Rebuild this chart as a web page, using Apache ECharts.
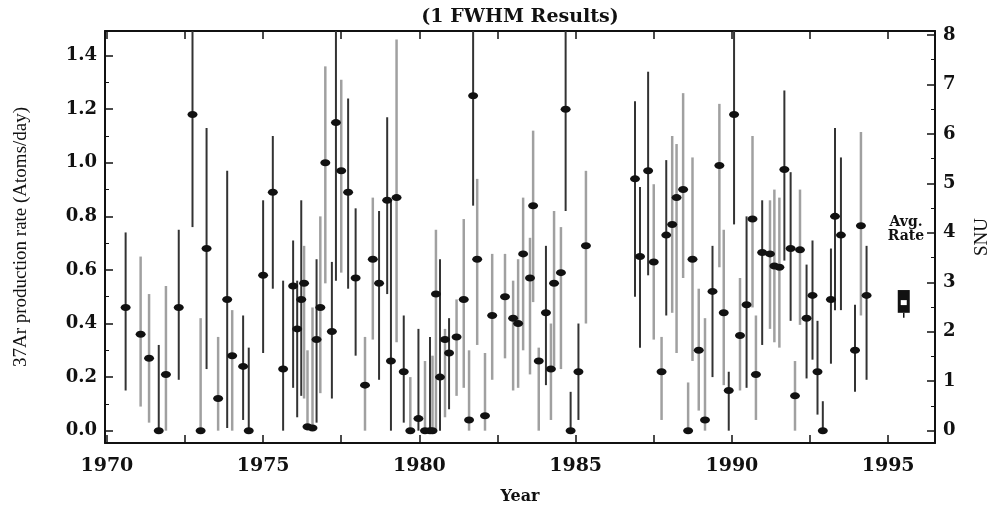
<!DOCTYPE html>
<html>
<head>
<meta charset="utf-8">
<title>37Ar production rate (1 FWHM Results)</title>
<script src="https://cdn.jsdelivr.net/npm/echarts@6/dist/echarts.min.js"></script>
<style>
  html, body { margin: 0; padding: 0; background: #fff; }
  #chart { width: 991px; height: 514px; }
</style>
</head>
<body>
<div id="chart"></div>
<script>
// run mid-dates (year)
var years = [1970.60, 1971.08, 1971.35, 1971.66, 1971.89, 1972.30, 1972.74, 1973.00, 1973.19, 1973.56,
  1973.85, 1974.01, 1974.36, 1974.54, 1975.00, 1975.31, 1975.64, 1975.96, 1976.09, 1976.22,
  1976.31, 1976.42, 1976.58, 1976.71, 1976.83, 1976.99, 1977.20, 1977.33, 1977.50, 1977.72,
  1977.96, 1978.26, 1978.51, 1978.71, 1978.97, 1979.09, 1979.27, 1979.50, 1979.71, 1979.97,
  1980.18, 1980.34, 1980.42, 1980.53, 1980.66, 1980.82, 1980.95, 1981.19, 1981.42, 1981.59,
  1981.72, 1981.85, 1982.10, 1982.33, 1982.74, 1983.00, 1983.16, 1983.32, 1983.54, 1983.64,
  1983.82, 1984.05, 1984.21, 1984.31, 1984.53, 1984.68, 1984.84, 1985.09, 1985.33, 1986.90,
  1987.06, 1987.32, 1987.50, 1987.75, 1987.90, 1988.09, 1988.23, 1988.44, 1988.60, 1988.74,
  1988.94, 1989.14, 1989.38, 1989.60, 1989.74, 1989.90, 1990.07, 1990.26, 1990.47, 1990.66,
  1990.77, 1990.97, 1991.22, 1991.36, 1991.52, 1991.68, 1991.88, 1992.02, 1992.18, 1992.39,
  1992.58, 1992.74, 1992.91, 1993.17, 1993.30, 1993.49, 1993.94, 1994.13, 1994.31];
// 37Ar production rate (atoms/day)
var rates = [0.46, 0.36, 0.27, 0.00, 0.21, 0.46, 1.18, 0.00, 0.68, 0.12,
  0.49, 0.28, 0.24, 0.00, 0.58, 0.89, 0.23, 0.54, 0.38, 0.49,
  0.55, 0.015, 0.01, 0.34, 0.46, 1.00, 0.37, 1.15, 0.97, 0.89,
  0.57, 0.17, 0.64, 0.55, 0.86, 0.26, 0.87, 0.22, 0.00, 0.045,
  0.00, 0.00, 0.00, 0.51, 0.20, 0.34, 0.29, 0.35, 0.49, 0.04,
  1.25, 0.64, 0.056, 0.43, 0.50, 0.42, 0.40, 0.66, 0.57, 0.84,
  0.26, 0.44, 0.23, 0.55, 0.59, 1.20, 0.00, 0.22, 0.69, 0.94,
  0.65, 0.97, 0.63, 0.22, 0.73, 0.77, 0.87, 0.90, 0.00, 0.64,
  0.30, 0.04, 0.52, 0.99, 0.44, 0.15, 1.18, 0.355, 0.47, 0.79,
  0.21, 0.665, 0.66, 0.615, 0.61, 0.975, 0.68, 0.13, 0.675, 0.42,
  0.505, 0.22, 0.00, 0.49, 0.80, 0.73, 0.30, 0.765, 0.505];
// 1 FWHM error bar ends
var lows = [0.15, 0.09, 0.03, 0.00, 0.00, 0.19, 0.76, 0.00, 0.23, 0.00,
  0.01, 0.00, 0.04, 0.00, 0.29, 0.53, 0.00, 0.16, 0.05, 0.13,
  0.12, 0.00, 0.00, 0.03, 0.14, 0.55, 0.12, 0.56, 0.59, 0.53,
  0.28, 0.00, 0.34, 0.19, 0.51, 0.00, 0.33, 0.03, 0.00, 0.00,
  0.00, 0.00, 0.00, 0.00, 0.00, 0.05, 0.08, 0.13, 0.16, 0.00,
  0.84, 0.32, 0.00, 0.19, 0.27, 0.15, 0.16, 0.30, 0.21, 0.48,
  0.00, 0.17, 0.04, 0.24, 0.23, 0.82, 0.00, 0.04, 0.40, 0.50,
  0.31, 0.58, 0.34, 0.04, 0.43, 0.44, 0.29, 0.57, 0.00, 0.26,
  0.075, 0.00, 0.20, 0.61, 0.17, 0.00, 0.77, 0.15, 0.16, 0.46,
  0.04, 0.32, 0.38, 0.33, 0.31, 0.635, 0.41, 0.00, 0.395, 0.195,
  0.265, 0.06, 0.00, 0.25, 0.45, 0.45, 0.145, 0.43, 0.19];
var highs = [0.74, 0.65, 0.51, 0.32, 0.54, 0.75, 1.60, 0.42, 1.13, 0.35,
  0.97, 0.45, 0.43, 0.31, 0.86, 1.10, 0.56, 0.71, 0.56, 0.86,
  0.69, 0.30, 0.46, 0.64, 0.80, 1.36, 0.63, 1.60, 1.31, 1.24,
  0.83, 0.35, 0.87, 0.82, 1.17, 0.86, 1.46, 0.43, 0.20, 0.38,
  0.26, 0.35, 0.28, 0.75, 0.64, 0.38, 0.42, 0.49, 0.79, 0.30,
  1.60, 0.94, 0.29, 0.66, 0.66, 0.56, 0.64, 0.87, 0.72, 1.12,
  0.31, 0.69, 0.40, 0.82, 0.76, 1.60, 0.145, 0.40, 0.97, 1.23,
  0.91, 1.34, 0.92, 0.35, 1.01, 1.10, 1.07, 1.26, 0.18, 1.02,
  0.53, 0.42, 0.69, 1.22, 0.75, 0.22, 1.60, 0.57, 0.80, 1.10,
  0.43, 0.86, 0.86, 0.90, 0.87, 1.27, 0.965, 0.26, 0.90, 0.62,
  0.71, 0.41, 0.11, 0.68, 1.13, 1.02, 0.47, 1.115, 0.69];
// bar shade in the figure: 1 = dark, 0 = grey
var shade = [1, 0, 0, 1, 0, 1, 1, 0, 1, 0,
  1, 0, 1, 1, 1, 1, 1, 1, 1, 1,
  0, 0, 0, 1, 0, 0, 1, 1, 0, 1,
  1, 0, 0, 1, 1, 1, 0, 1, 0, 1,
  0, 1, 0, 0, 1, 0, 1, 0, 0, 0,
  1, 0, 0, 0, 0, 0, 0, 0, 0, 0,
  0, 1, 0, 0, 0, 1, 1, 1, 0, 1,
  1, 1, 0, 0, 1, 0, 0, 0, 0, 0,
  0, 0, 1, 0, 0, 1, 1, 0, 1, 0,
  0, 1, 0, 0, 0, 1, 1, 0, 0, 1,
  1, 1, 1, 1, 1, 1, 1, 0, 1];

// average rate box
var avgYear = 1995.5;
var avgRate = 0.48;
var avgLow = 0.44;
var avgHigh = 0.525;

var yearLabels = [1970, 1975, 1980, 1985, 1990, 1995];
var yearTicks = [1970, 1972.5, 1975, 1977.5, 1980, 1982.5, 1985, 1987.5, 1990, 1992.5, 1995];
var rateLabels = [0, 0.2, 0.4, 0.6, 0.8, 1.0, 1.2, 1.4];
var rateMinor = [0.1, 0.3, 0.5, 0.7, 0.9, 1.1, 1.3];
var snuLabels = [0, 1, 2, 3, 4, 5, 6, 7, 8];
var snuMinor = [0.5, 1.5, 2.5, 3.5, 4.5, 5.5, 6.5, 7.5];

var rateMin = -0.046, rateMax = 1.492;
var snuMin = -0.25, snuMax = 8.08;

var serif = 'DejaVu Serif';
var axisCol = '#111';
var lineStyle = { color: axisCol, width: 2 };

var barData = years.map(function (y, i) { return [y, lows[i], highs[i], shade[i]]; });
var pointData = years.map(function (y, i) { return [y, rates[i]]; });

var myChart = echarts.init(document.getElementById('chart'));

var option = {
  animation: false,
  backgroundColor: '#fff',
  title: {
    text: '(1 FWHM Results)',
    left: 515,
    textAlign: 'center',
    top: 3,
    textStyle: { fontFamily: serif, fontWeight: 'bold', fontSize: 19, color: '#111' }
  },
  grid: { left: 105, right: 56, top: 31, bottom: 71, outerBoundsMode: 'none' },
  graphic: [{
    type: 'text', x: 906, y: 229,
    style: {
      text: 'Avg.\nRate', font: 'bold 14px "DejaVu Serif"', fill: '#111',
      align: 'center', verticalAlign: 'middle', lineHeight: 14
    }
  }],
  xAxis: [{
    type: 'value', min: 1969.94, max: 1996.5, position: 'bottom',
    axisLine: { onZero: false, lineStyle: lineStyle },
    axisTick: { inside: true, length: 8, customValues: yearTicks, lineStyle: { color: axisCol, width: 1.5 } },
    axisLabel: {
      customValues: yearLabels, margin: 14, fontFamily: serif, fontWeight: 'bold', fontSize: 19, color: '#111',
      formatter: function (v) { return String(v); }
    },
    splitLine: { show: false },
    name: 'Year', nameLocation: 'middle', nameGap: 46,
    nameTextStyle: { fontFamily: serif, fontWeight: 'bold', fontSize: 16, color: '#111' }
  }, {
    type: 'value', min: 1969.94, max: 1996.5, position: 'top',
    axisLine: { onZero: false, lineStyle: lineStyle },
    axisTick: { inside: true, length: 8, customValues: yearTicks, lineStyle: { color: axisCol, width: 1.5 } },
    axisLabel: { show: false },
    splitLine: { show: false }
  }],
  yAxis: [{
    type: 'value', min: rateMin, max: rateMax, position: 'left',
    axisLine: { show: true, onZero: false, lineStyle: lineStyle },
    axisTick: { show: true, inside: true, length: 8, customValues: rateLabels, lineStyle: { color: axisCol, width: 1.5 } },
    axisLabel: {
      customValues: rateLabels, margin: 8, fontFamily: serif, fontWeight: 'bold', fontSize: 18, color: '#111',
      formatter: function (v) { return v.toFixed(1); }
    },
    splitLine: { show: false },
    name: '37Ar production rate (Atoms/day)', nameLocation: 'middle', nameRotate: 90, nameGap: 74,
    nameTextStyle: { fontFamily: 'Liberation Serif', fontSize: 19, color: '#111' }
  }, {
    type: 'value', min: rateMin, max: rateMax, position: 'left',
    axisLine: { show: false, onZero: false },
    axisTick: { show: true, inside: true, length: 4, customValues: rateMinor, lineStyle: { color: axisCol, width: 1 } },
    axisLabel: { show: false },
    splitLine: { show: false }
  }, {
    type: 'value', min: snuMin, max: snuMax, position: 'right',
    axisLine: { show: true, onZero: false, lineStyle: lineStyle },
    axisTick: { show: true, inside: true, length: 8, customValues: snuLabels, lineStyle: { color: axisCol, width: 1.5 } },
    axisLabel: { customValues: snuLabels, margin: 8, fontFamily: serif, fontWeight: 'bold', fontSize: 18, color: '#111' },
    splitLine: { show: false },
    name: 'SNU', nameLocation: 'middle', nameRotate: 90, nameGap: 38,
    nameTextStyle: { fontFamily: 'Liberation Serif', fontSize: 19, color: '#111' }
  }, {
    type: 'value', min: snuMin, max: snuMax, position: 'right',
    axisLine: { show: false, onZero: false },
    axisTick: { show: true, inside: true, length: 4, customValues: snuMinor, lineStyle: { color: axisCol, width: 1 } },
    axisLabel: { show: false },
    splitLine: { show: false }
  }],
  series: [{
    type: 'custom',
    name: 'error bars',
    xAxisIndex: 0, yAxisIndex: 0,
    clip: true,
    data: barData,
    encode: { x: 0, y: [1, 2] },
    renderItem: function (params, api) {
      var x = api.value(0);
      var lo = api.coord([x, api.value(1)]);
      var hi = api.coord([x, api.value(2)]);
      var dark = api.value(3) === 1;
      return {
        type: 'line',
        shape: { x1: lo[0], y1: lo[1], x2: hi[0], y2: hi[1] },
        style: { stroke: dark ? '#333' : '#a0a0a0', lineWidth: dark ? 2 : 2.5 }
      };
    },
    z: 2
  }, {
    type: 'scatter',
    name: 'rate',
    xAxisIndex: 0, yAxisIndex: 0,
    data: pointData,
    symbol: 'circle',
    symbolSize: [10, 7],
    itemStyle: { color: '#111', opacity: 1 },
    z: 3
  }, {
    type: 'custom',
    name: 'average',
    xAxisIndex: 0, yAxisIndex: 0,
    data: [[avgYear, avgLow, avgHigh, avgRate]],
    encode: { x: 0, y: [1, 2] },
    renderItem: function (params, api) {
      var x = api.value(0);
      var lo = api.coord([x, api.value(1)]);
      var hi = api.coord([x, api.value(2)]);
      var mid = api.coord([x, api.value(3)]);
      return {
        type: 'group',
        children: [{
          type: 'line',
          shape: { x1: lo[0], y1: lo[1], x2: lo[0], y2: lo[1] + 5 },
          style: { stroke: '#111', lineWidth: 1.5 }
        }, {
          type: 'rect',
          shape: { x: hi[0] - 6, y: hi[1], width: 12, height: lo[1] - hi[1] },
          style: { fill: '#111' }
        }, {
          type: 'rect',
          shape: { x: mid[0] - 3, y: mid[1] - 2, width: 6, height: 5 },
          style: { fill: '#fff' }
        }]
      };
    },
    z: 3
  }]
};

myChart.setOption(option);
</script>
</body>
</html>
